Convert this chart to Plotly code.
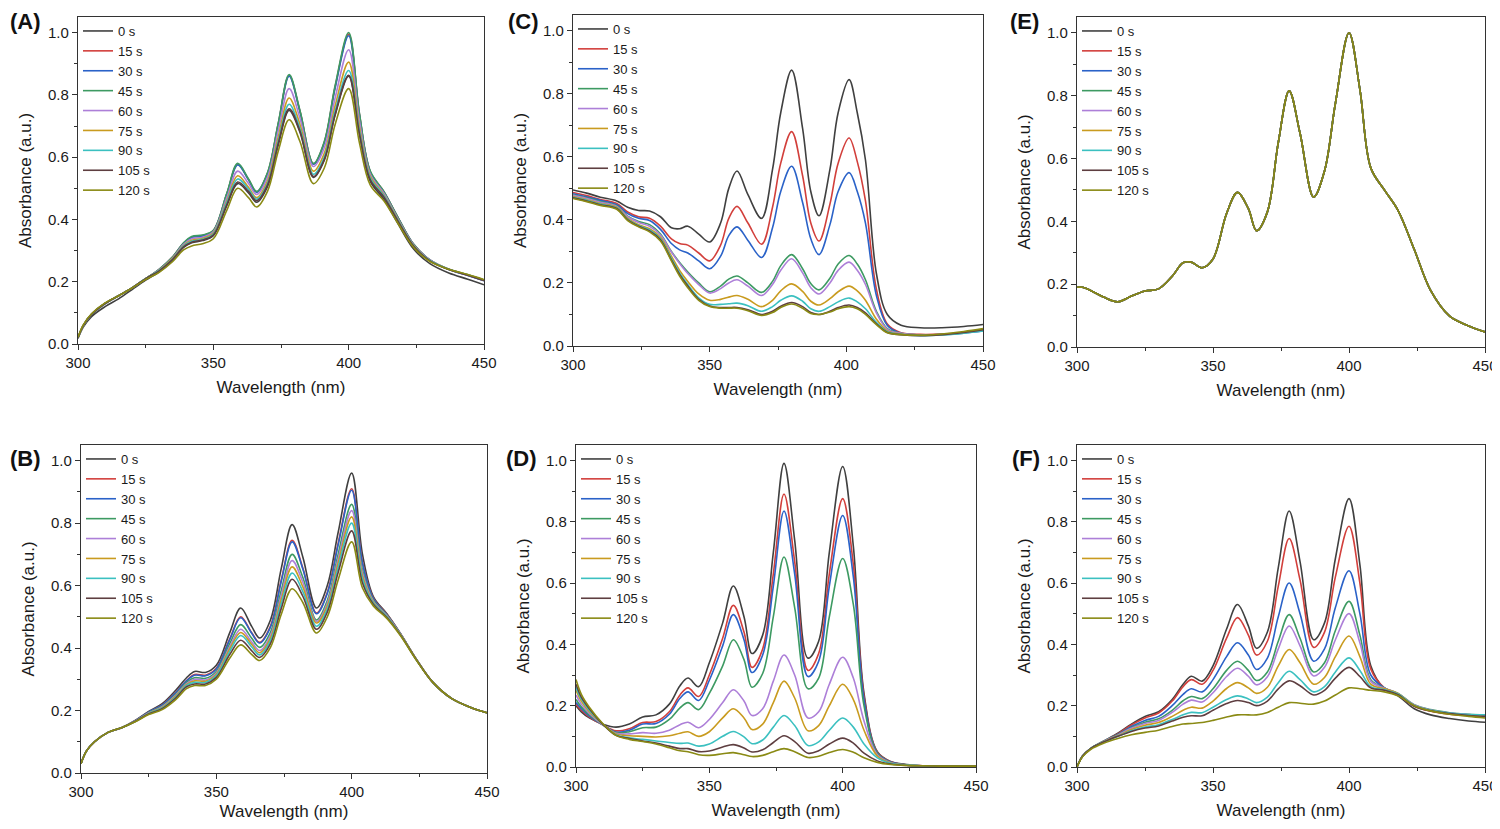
import plotly.graph_objects as go

# wavelength grids (nm)
wl = [300, 302, 305, 310, 315, 320, 325, 330, 335, 339, 342, 346, 350, 355, 359, 363, 366,
      370, 374, 378, 382, 387, 391, 395, 400, 404, 408, 413, 418, 424, 430, 437, 444, 450]
wl_c = [300, 305, 310, 316, 320, 324, 328, 332, 336, 339, 342, 346, 350, 354, 357, 360, 364,
        369, 373, 376, 380, 384, 387, 390, 394, 397, 401, 404, 407, 411, 415, 420, 427, 435, 443, 450]

times = ["0 s", "15 s", "30 s", "45 s", "60 s", "75 s", "90 s", "105 s", "120 s"]
colors = ["#404040", "#d23f3b", "#2a62c8", "#3d9a62", "#ad7fd8", "#c99b1f", "#3bc0c0", "#5e3e40", "#8a8a14"]

# (A)
A_0s = [0.018,0.055,0.088,0.12,0.145,0.175,0.205,0.232,0.27,0.31,0.325,0.332,0.348,0.445,0.515,0.485,0.455,0.505,0.64,0.75,0.68,0.535,0.59,0.735,0.86,0.672,0.522,0.465,0.39,0.305,0.258,0.228,0.208,0.19]
A_15s = [0.02,0.06,0.095,0.13,0.155,0.18,0.21,0.24,0.28,0.324,0.343,0.348,0.364,0.483,0.577,0.528,0.488,0.548,0.708,0.862,0.748,0.578,0.648,0.826,0.995,0.737,0.553,0.489,0.41,0.32,0.27,0.24,0.221,0.204]
A_30s = [0.02,0.06,0.095,0.13,0.155,0.18,0.21,0.24,0.279,0.323,0.342,0.347,0.363,0.482,0.575,0.527,0.487,0.547,0.706,0.86,0.746,0.577,0.646,0.822,0.99,0.735,0.552,0.488,0.409,0.32,0.27,0.239,0.22,0.203]
A_45s = [0.02,0.06,0.095,0.13,0.155,0.18,0.21,0.24,0.28,0.325,0.345,0.35,0.365,0.485,0.58,0.53,0.49,0.55,0.71,0.865,0.75,0.58,0.65,0.83,1.0,0.74,0.555,0.49,0.41,0.32,0.27,0.24,0.222,0.205]
A_60s = [0.02,0.06,0.095,0.13,0.155,0.18,0.21,0.238,0.277,0.32,0.338,0.343,0.36,0.47,0.555,0.515,0.48,0.535,0.685,0.82,0.725,0.57,0.63,0.79,0.945,0.715,0.545,0.484,0.405,0.318,0.27,0.24,0.222,0.205]
A_75s = [0.02,0.06,0.095,0.13,0.155,0.18,0.21,0.237,0.275,0.316,0.333,0.339,0.356,0.46,0.54,0.503,0.47,0.523,0.665,0.79,0.705,0.555,0.612,0.765,0.905,0.695,0.538,0.479,0.402,0.316,0.268,0.24,0.222,0.205]
A_90s = [0.02,0.06,0.095,0.13,0.155,0.18,0.21,0.236,0.273,0.314,0.33,0.336,0.353,0.455,0.53,0.497,0.465,0.515,0.652,0.77,0.692,0.545,0.6,0.748,0.878,0.683,0.533,0.476,0.4,0.315,0.268,0.24,0.222,0.205]
A_105s = [0.02,0.06,0.095,0.13,0.155,0.18,0.21,0.235,0.272,0.312,0.327,0.334,0.35,0.448,0.52,0.49,0.46,0.51,0.645,0.755,0.684,0.538,0.593,0.738,0.863,0.675,0.527,0.472,0.398,0.314,0.267,0.239,0.221,0.204]
A_120s = [0.022,0.062,0.097,0.132,0.155,0.18,0.207,0.23,0.265,0.302,0.315,0.322,0.338,0.43,0.5,0.47,0.44,0.49,0.62,0.72,0.65,0.515,0.565,0.705,0.82,0.645,0.51,0.46,0.39,0.31,0.265,0.24,0.223,0.207]

# (B)
B_0s = [0.03,0.07,0.1,0.13,0.145,0.168,0.197,0.222,0.265,0.305,0.325,0.322,0.345,0.45,0.528,0.47,0.432,0.49,0.655,0.795,0.69,0.528,0.6,0.77,0.96,0.7,0.565,0.51,0.447,0.363,0.29,0.238,0.21,0.193]
B_15s = [0.03,0.07,0.1,0.13,0.145,0.167,0.195,0.218,0.258,0.296,0.315,0.313,0.335,0.43,0.5,0.45,0.418,0.47,0.618,0.745,0.655,0.512,0.578,0.735,0.91,0.675,0.56,0.508,0.446,0.363,0.29,0.238,0.21,0.193]
B_30s = [0.03,0.07,0.1,0.13,0.145,0.167,0.195,0.217,0.257,0.295,0.313,0.311,0.333,0.428,0.497,0.448,0.416,0.467,0.614,0.74,0.652,0.51,0.575,0.73,0.905,0.672,0.558,0.507,0.446,0.363,0.29,0.238,0.21,0.193]
B_45s = [0.03,0.07,0.1,0.13,0.145,0.166,0.193,0.214,0.252,0.29,0.305,0.303,0.325,0.415,0.475,0.432,0.402,0.45,0.585,0.70,0.625,0.49,0.552,0.7,0.86,0.65,0.553,0.505,0.445,0.362,0.29,0.238,0.21,0.193]
B_60s = [0.03,0.07,0.1,0.13,0.145,0.166,0.192,0.212,0.249,0.286,0.3,0.298,0.32,0.405,0.46,0.42,0.392,0.44,0.57,0.68,0.61,0.485,0.543,0.685,0.84,0.64,0.55,0.503,0.445,0.362,0.29,0.238,0.21,0.193]
B_75s = [0.03,0.07,0.1,0.13,0.145,0.165,0.191,0.21,0.246,0.283,0.295,0.294,0.316,0.398,0.45,0.412,0.385,0.432,0.556,0.66,0.595,0.48,0.535,0.672,0.82,0.63,0.547,0.501,0.444,0.362,0.29,0.238,0.21,0.193]
B_90s = [0.03,0.07,0.1,0.13,0.145,0.165,0.19,0.208,0.243,0.28,0.29,0.29,0.312,0.39,0.44,0.404,0.378,0.424,0.543,0.64,0.58,0.47,0.525,0.658,0.80,0.62,0.544,0.5,0.443,0.361,0.29,0.238,0.21,0.193]
B_105s = [0.03,0.07,0.1,0.13,0.145,0.165,0.189,0.206,0.24,0.276,0.285,0.285,0.306,0.38,0.425,0.392,0.37,0.414,0.527,0.62,0.565,0.46,0.515,0.642,0.775,0.608,0.54,0.498,0.442,0.361,0.29,0.238,0.21,0.193]
B_120s = [0.03,0.07,0.1,0.13,0.145,0.164,0.187,0.203,0.235,0.27,0.28,0.28,0.3,0.368,0.41,0.38,0.36,0.402,0.508,0.59,0.545,0.448,0.5,0.618,0.74,0.592,0.535,0.495,0.44,0.36,0.29,0.238,0.21,0.193]

# (C)
C_0s = [0.495,0.485,0.472,0.46,0.44,0.43,0.428,0.41,0.375,0.372,0.38,0.355,0.33,0.39,0.5,0.555,0.48,0.405,0.56,0.74,0.875,0.69,0.49,0.413,0.56,0.74,0.845,0.74,0.59,0.23,0.1,0.066,0.058,0.058,0.062,0.068]
C_15s = [0.487,0.477,0.465,0.452,0.425,0.41,0.405,0.38,0.34,0.325,0.32,0.295,0.27,0.32,0.405,0.443,0.39,0.323,0.44,0.58,0.68,0.54,0.39,0.333,0.45,0.58,0.66,0.585,0.46,0.18,0.07,0.042,0.037,0.038,0.043,0.05]
C_30s = [0.483,0.473,0.462,0.448,0.42,0.405,0.398,0.37,0.325,0.305,0.295,0.27,0.245,0.285,0.35,0.378,0.335,0.281,0.375,0.49,0.57,0.455,0.34,0.29,0.385,0.49,0.55,0.49,0.39,0.16,0.065,0.04,0.035,0.036,0.041,0.048]
C_45s = [0.48,0.47,0.458,0.445,0.412,0.395,0.385,0.355,0.3,0.265,0.235,0.2,0.172,0.19,0.212,0.222,0.2,0.17,0.205,0.255,0.29,0.245,0.198,0.178,0.215,0.26,0.287,0.26,0.21,0.11,0.055,0.04,0.035,0.037,0.042,0.05]
C_60s = [0.478,0.468,0.456,0.443,0.41,0.392,0.38,0.352,0.298,0.262,0.23,0.195,0.168,0.182,0.2,0.21,0.19,0.16,0.195,0.24,0.277,0.232,0.185,0.165,0.2,0.24,0.266,0.24,0.195,0.105,0.053,0.04,0.035,0.037,0.042,0.05]
C_75s = [0.474,0.464,0.452,0.44,0.405,0.385,0.372,0.345,0.285,0.24,0.205,0.165,0.145,0.148,0.155,0.16,0.148,0.125,0.145,0.175,0.197,0.173,0.142,0.13,0.15,0.172,0.19,0.175,0.145,0.085,0.048,0.038,0.034,0.036,0.042,0.05]
C_90s = [0.472,0.462,0.45,0.438,0.402,0.382,0.368,0.34,0.278,0.232,0.195,0.153,0.132,0.132,0.134,0.136,0.128,0.11,0.125,0.145,0.159,0.142,0.118,0.11,0.125,0.14,0.152,0.14,0.118,0.075,0.045,0.037,0.033,0.035,0.041,0.048]
C_105s = [0.47,0.46,0.448,0.436,0.4,0.38,0.365,0.337,0.273,0.227,0.19,0.148,0.127,0.122,0.122,0.122,0.115,0.1,0.11,0.126,0.138,0.125,0.106,0.1,0.11,0.122,0.13,0.122,0.105,0.07,0.043,0.036,0.033,0.036,0.043,0.052]
C_120s = [0.468,0.458,0.446,0.434,0.398,0.378,0.362,0.333,0.27,0.222,0.185,0.145,0.125,0.12,0.12,0.12,0.112,0.097,0.106,0.122,0.133,0.12,0.103,0.1,0.108,0.118,0.125,0.118,0.1,0.068,0.042,0.036,0.034,0.038,0.046,0.055]

# (D)
D_0s = [0.2,0.18,0.16,0.14,0.13,0.14,0.163,0.17,0.205,0.265,0.29,0.262,0.34,0.47,0.59,0.49,0.37,0.43,0.7,0.99,0.74,0.355,0.41,0.7,0.98,0.72,0.24,0.05,0.018,0.008,0.004,0.003,0.003,0.003]
D_15s = [0.205,0.185,0.163,0.138,0.118,0.125,0.145,0.148,0.18,0.235,0.258,0.23,0.3,0.42,0.527,0.44,0.325,0.385,0.63,0.89,0.67,0.315,0.37,0.63,0.875,0.66,0.23,0.048,0.017,0.007,0.004,0.003,0.003,0.003]
D_30s = [0.21,0.19,0.166,0.138,0.114,0.12,0.14,0.142,0.172,0.224,0.245,0.217,0.283,0.395,0.497,0.415,0.308,0.365,0.59,0.835,0.63,0.295,0.345,0.59,0.82,0.62,0.22,0.046,0.016,0.007,0.004,0.003,0.003,0.003]
D_45s = [0.22,0.196,0.17,0.138,0.112,0.115,0.128,0.13,0.155,0.193,0.21,0.187,0.24,0.33,0.415,0.35,0.26,0.305,0.49,0.685,0.52,0.255,0.29,0.49,0.68,0.53,0.2,0.044,0.015,0.007,0.004,0.003,0.003,0.003]
D_60s = [0.235,0.205,0.175,0.138,0.11,0.108,0.112,0.11,0.12,0.138,0.146,0.128,0.155,0.21,0.252,0.215,0.168,0.19,0.28,0.365,0.3,0.16,0.18,0.27,0.358,0.29,0.15,0.04,0.014,0.006,0.004,0.003,0.003,0.003]
D_75s = [0.25,0.215,0.18,0.14,0.108,0.102,0.1,0.098,0.102,0.11,0.115,0.1,0.115,0.16,0.19,0.16,0.122,0.14,0.21,0.28,0.225,0.118,0.135,0.2,0.27,0.22,0.12,0.036,0.013,0.006,0.004,0.003,0.003,0.003]
D_90s = [0.26,0.222,0.185,0.14,0.105,0.095,0.09,0.085,0.08,0.077,0.078,0.068,0.075,0.1,0.116,0.098,0.076,0.088,0.13,0.168,0.135,0.07,0.082,0.12,0.16,0.13,0.075,0.03,0.012,0.006,0.004,0.003,0.003,0.003]
D_105s = [0.27,0.228,0.19,0.14,0.103,0.093,0.085,0.078,0.068,0.06,0.06,0.05,0.052,0.065,0.073,0.062,0.049,0.056,0.08,0.102,0.083,0.045,0.053,0.075,0.094,0.078,0.045,0.02,0.01,0.005,0.004,0.003,0.003,0.003]
D_120s = [0.285,0.237,0.195,0.142,0.103,0.09,0.083,0.075,0.063,0.053,0.05,0.04,0.038,0.043,0.047,0.04,0.034,0.038,0.05,0.06,0.05,0.031,0.035,0.047,0.057,0.048,0.03,0.015,0.008,0.005,0.004,0.003,0.003,0.003]

# (E) all nine spectra lie on top of each other
E_abs = [0.19,0.19,0.18,0.158,0.144,0.162,0.178,0.185,0.225,0.268,0.27,0.252,0.28,0.425,0.492,0.44,0.37,0.43,0.65,0.815,0.68,0.477,0.56,0.775,1.0,0.82,0.57,0.5,0.435,0.31,0.18,0.098,0.067,0.048]

# (F)
F_0s = [0.0,0.035,0.06,0.085,0.11,0.14,0.165,0.18,0.22,0.27,0.296,0.28,0.33,0.45,0.53,0.46,0.387,0.44,0.65,0.835,0.67,0.415,0.47,0.68,0.875,0.66,0.33,0.255,0.232,0.19,0.17,0.158,0.15,0.146]
F_15s = [0.0,0.035,0.06,0.085,0.108,0.137,0.16,0.176,0.215,0.262,0.285,0.27,0.315,0.42,0.487,0.43,0.365,0.41,0.59,0.745,0.61,0.39,0.44,0.62,0.785,0.6,0.32,0.258,0.236,0.198,0.182,0.172,0.167,0.164]
F_30s = [0.0,0.035,0.06,0.085,0.106,0.132,0.152,0.165,0.2,0.237,0.255,0.245,0.285,0.36,0.405,0.365,0.318,0.355,0.49,0.6,0.5,0.345,0.385,0.52,0.64,0.5,0.3,0.258,0.238,0.2,0.185,0.175,0.17,0.167]
F_45s = [0.0,0.035,0.06,0.085,0.105,0.128,0.146,0.157,0.185,0.216,0.23,0.223,0.255,0.315,0.345,0.315,0.282,0.31,0.41,0.497,0.42,0.31,0.34,0.445,0.54,0.43,0.285,0.258,0.24,0.203,0.187,0.177,0.172,0.17]
F_60s = [0.0,0.035,0.06,0.084,0.104,0.126,0.142,0.152,0.178,0.205,0.218,0.212,0.242,0.295,0.322,0.296,0.268,0.294,0.385,0.46,0.395,0.297,0.325,0.415,0.5,0.405,0.28,0.257,0.24,0.202,0.186,0.176,0.171,0.168]
F_75s = [0.0,0.035,0.06,0.083,0.102,0.122,0.136,0.145,0.165,0.185,0.195,0.192,0.215,0.256,0.275,0.258,0.24,0.26,0.33,0.383,0.34,0.27,0.292,0.36,0.427,0.36,0.27,0.255,0.24,0.2,0.184,0.174,0.168,0.165]
F_90s = [0.0,0.035,0.06,0.082,0.1,0.118,0.13,0.138,0.155,0.17,0.178,0.177,0.195,0.22,0.232,0.222,0.21,0.228,0.275,0.312,0.285,0.245,0.262,0.31,0.356,0.315,0.262,0.252,0.238,0.2,0.185,0.176,0.171,0.17]
F_105s = [0.0,0.035,0.06,0.082,0.1,0.116,0.127,0.134,0.15,0.162,0.167,0.167,0.185,0.207,0.217,0.21,0.2,0.215,0.255,0.281,0.265,0.235,0.25,0.29,0.325,0.295,0.258,0.25,0.236,0.198,0.183,0.174,0.168,0.165]
F_120s = [0.0,0.033,0.057,0.078,0.093,0.105,0.113,0.12,0.132,0.14,0.142,0.145,0.152,0.163,0.17,0.17,0.17,0.178,0.195,0.21,0.208,0.205,0.215,0.235,0.258,0.255,0.25,0.245,0.232,0.2,0.183,0.172,0.165,0.16]

panels = [
    ("(A)", wl, [A_0s, A_15s, A_30s, A_45s, A_60s, A_75s, A_90s, A_105s, A_120s]),
    ("(C)", wl_c, [C_0s, C_15s, C_30s, C_45s, C_60s, C_75s, C_90s, C_105s, C_120s]),
    ("(E)", wl, [E_abs] * 9),
    ("(B)", wl, [B_0s, B_15s, B_30s, B_45s, B_60s, B_75s, B_90s, B_105s, B_120s]),
    ("(D)", wl, [D_0s, D_15s, D_30s, D_45s, D_60s, D_75s, D_90s, D_105s, D_120s]),
    ("(F)", wl, [F_0s, F_15s, F_30s, F_45s, F_60s, F_75s, F_90s, F_105s, F_120s]),
]

# the page body adds an 8 px margin; keep the page from overflowing vertically
OFF = 8
W, H = 1500 - OFF, 829 - 2 * OFF
# plot-area boxes in screen pixels: left, right, top, bottom
boxes = [(78, 484, 17, 344), (573, 983, 15, 346), (1077, 1485, 17, 347),
         (81, 487, 445, 773), (576, 976, 445, 767), (1077, 1485, 445, 767)]
label_pos = [(8, 21), (506, 21), (1008, 21), (8, 458), (504, 458), (1010, 458)]

def px(v, size):
    return (v - OFF) / size

FONT = "Arial, Liberation Sans, sans-serif"
fig = go.Figure()
layout = dict(width=W, height=H, margin=dict(l=0, r=0, t=0, b=0, autoexpand=False),
              paper_bgcolor="white", plot_bgcolor="white", showlegend=True,
              font=dict(family=FONT, color="#1a1a1a"), annotations=[])

for i, (label, x, curves) in enumerate(panels):
    n = i + 1
    sfx = "" if n == 1 else str(n)
    l, r, t, b = boxes[i]
    for name, col, y in zip(times, colors, curves):
        fig.add_trace(go.Scatter(x=x, y=y, mode="lines", name=name,
                                 line=dict(color=col, width=1.6, shape="spline", smoothing=1.0),
                                 xaxis="x" + sfx, yaxis="y" + sfx, legend="legend" + sfx))
    common = dict(showline=True, linecolor="#333333", linewidth=1.3, mirror=True, automargin=False,
                  showgrid=False, zeroline=False, ticks="outside", ticklen=5,
                  tickcolor="#333333", tickwidth=1.2, tickfont=dict(size=15, family=FONT))
    layout["xaxis" + sfx] = dict(common, domain=[px(l, W), px(r, W)], range=[300, 450],
                                 anchor="y" + sfx, tickvals=[300, 350, 400, 450],
                                 minor=dict(dtick=25, ticks="outside", ticklen=3, tickcolor="#333333"),
                                 title=dict(text="Wavelength (nm)", font=dict(size=17), standoff=10))
    layout["yaxis" + sfx] = dict(common, domain=[1 - px(b, H), 1 - px(t, H)], range=[0, 1.05],
                                 anchor="x" + sfx, tickvals=[0, 0.2, 0.4, 0.6, 0.8, 1.0],
                                 tickformat=".1f",
                                 minor=dict(dtick=0.1, ticks="outside", ticklen=3, tickcolor="#333333"),
                                 title=dict(text="Absorbance (a.u.)", font=dict(size=17), standoff=12))
    layout["legend" + sfx] = dict(x=px(l, W), y=1 - px(t - 1, H), xanchor="left", yanchor="top",
                                  bgcolor="rgba(0,0,0,0)", font=dict(size=13, family=FONT),
                                  itemwidth=30, tracegroupgap=0)
    lx, ly = label_pos[i]
    layout["annotations"].append(dict(text="<b>" + label + "</b>", x=px(lx, W), y=1 - px(ly, H),
                                      xref="paper", yref="paper", xanchor="left", yanchor="middle",
                                      showarrow=False, font=dict(size=22, family=FONT, color="#111111")))

fig.update_layout(**layout)
fig.write_html("out.html")
